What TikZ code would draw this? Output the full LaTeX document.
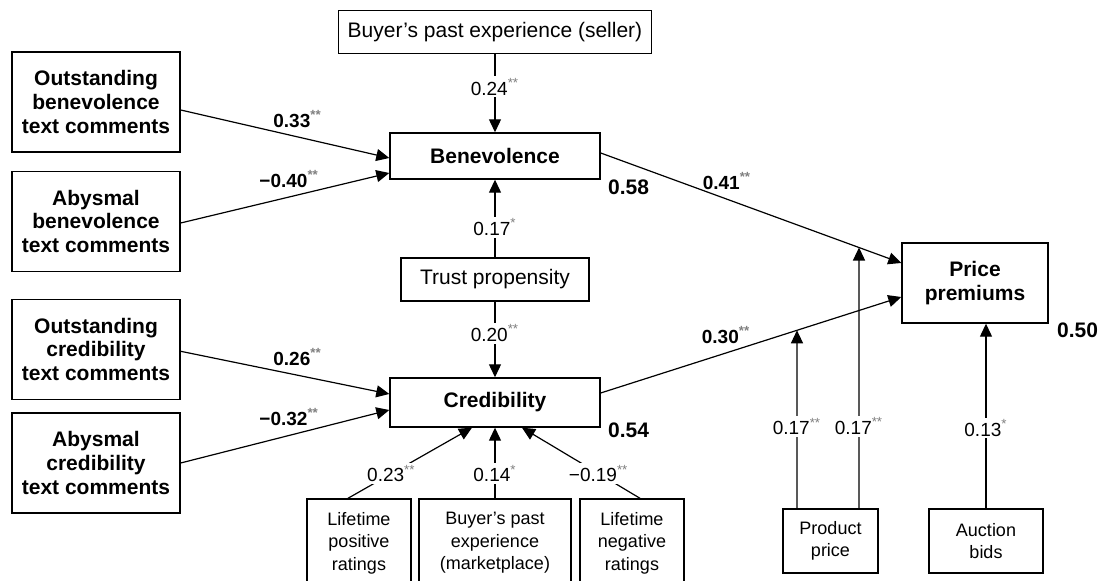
\documentclass[tikz,border=0pt]{standalone}
\usepackage{fontspec}
\setmainfont{Liberation Sans}
\usetikzlibrary{positioning}
\usetikzlibrary{calc}
\usetikzlibrary{arrows.meta}
\newcommand{\signif}[1]{\textsuperscript{\textcolor{black!50}{#1}}}
\tikzset{
  box/.style={draw, line width=0.7pt, align=center, inner sep=1pt, font=\fontsize{10.5}{12}\selectfont},
  keybox/.style={box, font=\fontsize{10.5}{11.8}\selectfont\bfseries},
  smallbox/.style={box, font=\fontsize{9}{11.25}\selectfont},
  arr/.style={line width=0.6pt, -{Triangle[length=6.5pt,width=6pt]}},
  coef/.style={fill=white, inner sep=1pt, font=\fontsize{9.5}{10}\selectfont},
  bcoef/.style={inner sep=2pt, font=\fontsize{9.5}{10}\selectfont\bfseries},
  rsq/.style={inner sep=0pt, anchor=west, font=\fontsize{10.5}{12}\selectfont\bfseries}
}

\begin{document}
\begin{tikzpicture}[x=0.5pt, y=-0.5pt]
\useasboundingbox (0,0) rectangle (1100,581);

%%% text comment boxes
\node[keybox, minimum width=84pt, minimum height=50pt] (obene) at (96,102) {Outstanding\\benevolence\\text comments};
\node[keybox, minimum width=84pt, minimum height=50pt] (abene) at (96,221.5) {Abysmal\\benevolence\\text comments};
\node[keybox, minimum width=84pt, minimum height=50pt] (ocred) at (96,349.3) {Outstanding\\credibility\\text comments};
\node[keybox, minimum width=84pt, minimum height=50pt] (acred) at (96,463) {Abysmal\\credibility\\text comments};

%%% trust and outcome
\node[box, minimum width=156.7pt, minimum height=21.3pt] (seller) at (495,32) {Buyer’s past experience (seller)};
\node[keybox, minimum width=105pt, minimum height=23pt] (bene) at (495,156) {Benevolence};
\node[box, minimum width=94pt, minimum height=21.5pt] (trust) at (495,279.5) {Trust propensity};
\node[keybox, minimum width=105pt, minimum height=24.5pt] (cred) at (495,402.5) {Credibility};
\node[keybox, minimum width=73pt, minimum height=40pt] (price) at (975,283) {Price\\premiums};

% R squared
\node[rsq] (rbene) at ($(bene.south east)+(7,8)$) {0.58};
\node[rsq] (rcred) at ($(cred.south east)+(7,3)$) {0.54};
\node[rsq] (rprice) at ($(price.south east)+(8,7)$) {0.50};

%%% controls
\node[smallbox, minimum width=52pt, minimum height=44pt] (lpos) at (359,543) {Lifetime\\positive\\ratings};
\node[smallbox, minimum width=76pt, minimum height=44pt] (mkt) at (495,543) {Buyer’s past\\experience\\(marketplace)};
\node[smallbox, minimum width=52pt, minimum height=44pt] (lneg) at (632,543) {Lifetime\\negative\\ratings};
\node[smallbox, minimum width=47.5pt, minimum height=32pt] (pprice) at (830.5,541) {Product\\price};
\node[smallbox, minimum width=57pt, minimum height=32pt] (bids) at (986,541) {Auction\\bids};

%%% paths into benevolence
\draw[arr] ($(obene.east)+(0,8)$) -- node[bcoef, above=2.5pt, pos=.56] {0.33\signif{**}} ($(bene.west)+(0,2)$);
\draw[arr] ($(abene.east)+(0,1.5)$) -- node[bcoef, above=2.5pt, pos=.52] {−0.40\signif{**}} ($(bene.west)+(0,17)$);
\draw[arr] (seller) -- node[coef, pos=.42] {0.24\signif{**}} (bene);
\draw[arr] (trust) -- node[coef, pos=.39] {0.17\signif{*}} (bene);

%%% paths into credibility
\draw[arr] ($(ocred.east)+(0,2)$) -- node[bcoef, above=2.5pt, pos=.56] {0.26\signif{**}} ($(cred.west)+(0,-8.5)$);
\draw[arr] ($(acred.east)+(0,0)$) -- node[bcoef, above=2.5pt, pos=.52] {−0.32\signif{**}} ($(cred.west)+(0,7.5)$);
\draw[arr] (trust) -- node[coef, pos=.415] {0.20\signif{**}} (cred);
\draw[arr] ($(lpos.north)+(-11,0)$) -- node[coef, pos=.35] {0.23\signif{**}} ($(cred.south)+(-23,0)$);
\draw[arr] (mkt) -- node[coef, pos=.35] {0.14\signif{*}} (cred);
\draw[arr] ($(lneg.north)+(8,0)$) -- node[coef, pos=.35] {−0.19\signif{**}} ($(cred.south)+(27,0)$);

%%% paths into price premiums
\coordinate (bo) at ($(bene.east)+(0,-3)$);
\coordinate (bi) at ($(price.west)+(0,-20)$);
\coordinate (co) at ($(cred.east)+(0,-9.5)$);
\coordinate (ci) at ($(price.west)+(0,14)$);
\draw[arr] (bo) -- node[bcoef, above=2.5pt, pos=.42] {0.41\signif{**}} (bi);
\draw[arr] (co) -- node[bcoef, above=2.5pt, pos=.417] {0.30\signif{**}} (ci);

\coordinate (pa) at ($(pprice.north)+(-33.5,0)$);
\coordinate (pat) at ($(pa)+(0,-400)$);
\coordinate (pb) at ($(pprice.north)+(28.5,0)$);
\coordinate (pbt) at ($(pb)+(0,-400)$);
\draw[arr] (pa) -- node[coef, pos=.46] {0.17\signif{**}} (intersection of pa--pat and co--ci);
\draw[arr] (pb) -- node[coef, pos=.315] {0.17\signif{**}} (intersection of pb--pbt and bo--bi);
\draw[arr] (bids.north) -- node[coef, pos=.435] {0.13\signif{*}} (bids.north |- price.south);

\end{tikzpicture}
\end{document}
